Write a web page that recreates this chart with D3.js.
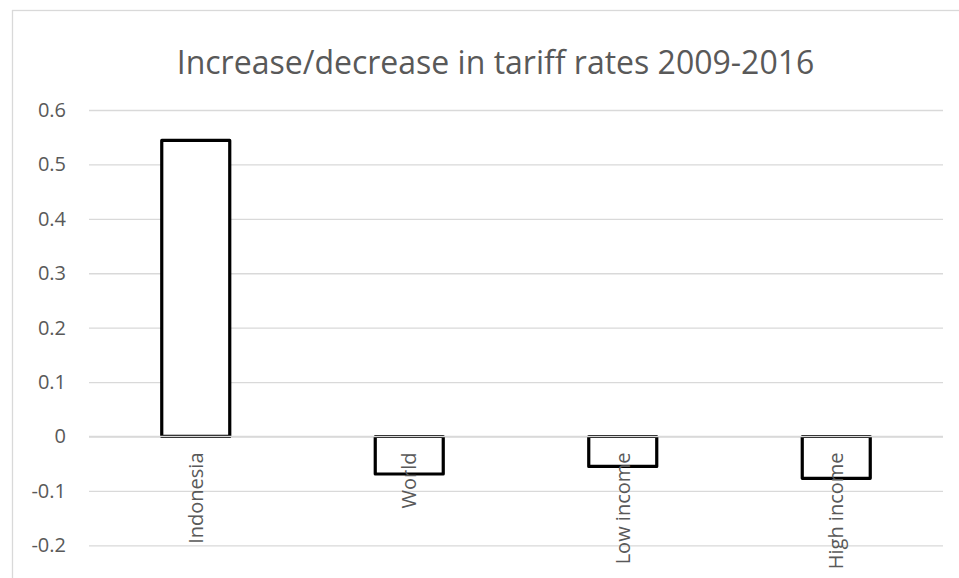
<!DOCTYPE html>
<html>
<head>
<meta charset="utf-8">
<script src="https://cdn.jsdelivr.net/npm/d3@7"></script>
<style>
  html, body { margin: 0; padding: 0; background: #fff; }
  svg { display: block; }
  text { font-family: "Open Sans", "Noto Sans", sans-serif; fill: #595959; }
</style>
</head>
<body>
<svg id="chart" width="959" height="578"></svg>
<script>
const title = "Increase/decrease in tariff rates 2009-2016";
const categories = ["Indonesia", "World", "Low income", "High income"];
const values = [0.544, -0.069, -0.055, -0.077];
const tickValues = [-0.2, -0.1, 0, 0.1, 0.2, 0.3, 0.4, 0.5, 0.6];
const tickLabels = ["-0.2", "-0.1", "0", "0.1", "0.2", "0.3", "0.4", "0.5", "0.6"];

const svg = d3.select("#chart");
const plot = { left: 89, right: 943, top: 110, bottom: 545.3 };

// chart area border
svg.append("rect")
  .attr("x", 12.5).attr("y", 10.5)
  .attr("width", 1000).attr("height", 700)
  .attr("fill", "#fff").attr("stroke", "#d9d9d9").attr("stroke-width", 1.3);

const x = d3.scaleBand()
  .domain(categories)
  .range([plot.left, plot.right])
  .paddingInner(0.6815)
  .paddingOuter(0.6815 / 2);

const y = d3.scaleLinear()
  .domain([-0.2, 0.6])
  .range([plot.bottom, plot.top]);

// title
svg.append("text")
  .attr("x", 495.5).attr("y", 74)
  .attr("text-anchor", "middle")
  .style("font-size", "32px")
  .text(title);

// y axis (labels + gridlines)
const yAxis = d3.axisLeft(y)
  .tickValues(tickValues)
  .tickFormat((d, i) => tickLabels[i])
  .tickSize(-(plot.right - plot.left))
  .tickPadding(23);

const gy = svg.append("g")
  .attr("transform", `translate(${plot.left},0)`)
  .call(yAxis);
gy.select(".domain").remove();
gy.selectAll(".tick line").attr("stroke", "#d9d9d9").attr("stroke-width", 1.3);
gy.selectAll(".tick text")
  .style("font-size", "20px")
  .attr("fill", "#595959")
  .style("font-family", "'Open Sans', sans-serif");

// bars
svg.append("g").selectAll("rect")
  .data(categories.map((c, i) => ({ c, v: values[i] })))
  .join("rect")
  .attr("x", d => x(d.c))
  .attr("width", x.bandwidth())
  .attr("y", d => y(Math.max(0, d.v)))
  .attr("height", d => Math.abs(y(d.v) - y(0)))
  .attr("fill", "#fff")
  .attr("stroke", "#000")
  .attr("stroke-width", 3.2)
  .attr("stroke-linejoin", "round");

// zero axis line over bars
svg.append("line")
  .attr("x1", plot.left).attr("x2", plot.right)
  .attr("y1", y(0)).attr("y2", y(0))
  .attr("stroke", "#d9d9d9").attr("stroke-width", 1.3);

// category labels (rotated, next to axis)
svg.append("g").selectAll("text")
  .data(categories)
  .join("text")
  .attr("transform", d => `translate(${x(d) + x.bandwidth() / 2},${y(0) + 16}) rotate(-90)`)
  .attr("text-anchor", "end")
  .attr("dy", "0.35em")
  .style("font-size", "20px")
  .text(d => d);
</script>
</body>
</html>
